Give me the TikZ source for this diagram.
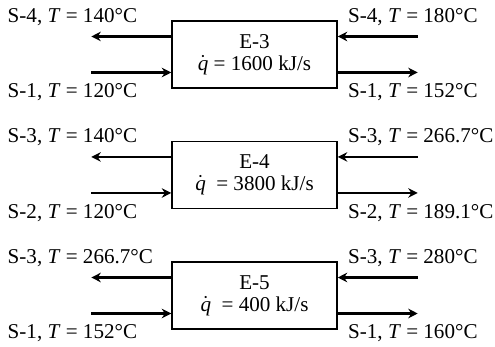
\documentclass[tikz,border=0pt]{standalone}
\usepackage{fontspec}
\setmainfont{Liberation Serif}
\usepackage{tikz}
\usetikzlibrary{arrows.meta}

\tikzset{
  hx/.style={draw, line width=0.7pt, minimum width=2.75cm, minimum height=1.117cm,
    inner sep=0pt, align=center, font=\fontsize{10}{10.5}\selectfont},
  flow/.style={line width=1.1pt, -{Stealth[length=4.5pt, width=4.5pt]}},
  stream/.style={inner sep=0pt, anchor=west, font=\fontsize{10}{12}\selectfont}
}

\begin{document}
\begin{tikzpicture}
  \useasboundingbox (0,0) rectangle (8.25,5.783);

  % Exchangers E-3, E-4, E-5: hot stream right to left (top), cold stream left to right (bottom)
  \foreach \n/\yc/\q/\hs/\hin/\hout/\cs/\cin/\cout in {
      3/4.875/{= 1600}/4/180/140/1/120/152,
      4/2.867/{\ = 3800}/3/266.7/140/2/120/189.1,
      5/0.858/{\ = 400}/3/280/266.7/1/152/160} {
    \node[hx] (E\n) at (4.242, \yc) {E-\n\\ $\dot{\textit{q}}$ \q\ kJ/s};

    % free ends of the four flows
    \coordinate (hin\n)  at ([shift={(1.333,0.3)}]E\n.east);
    \coordinate (hout\n) at ([shift={(-1.333,0.3)}]E\n.west);
    \coordinate (cin\n)  at ([shift={(-1.333,-0.3)}]E\n.west);
    \coordinate (cout\n) at ([shift={(1.333,-0.3)}]E\n.east);

    \draw[flow] (hin\n) -- (hin\n -| E\n.east);
    \draw[flow] (hout\n -| E\n.west) -- (hout\n);
    \draw[flow] (cin\n) -- (cin\n -| E\n.west);
    \draw[flow] (cout\n -| E\n.east) -- (cout\n);

    % stream labels
    \node[stream] (lhout\n) at ([shift={(-1.4,0.325)}]hout\n) {S-\hs, \textit{T} = \hout°C};
    \node[stream] (lcin\n)  at ([shift={(-1.4,-0.33)}]cin\n) {S-\cs, \textit{T} = \cin°C};
    \node[stream] (lhin\n)  at ([shift={(0.167,0.625)}]E\n.east) {S-\hs, \textit{T} = \hin°C};
    \node[stream] (lcout\n) at ([shift={(0.167,-0.63)}]E\n.east) {S-\cs, \textit{T} = \cout°C};
  }
\end{tikzpicture}
\end{document}
